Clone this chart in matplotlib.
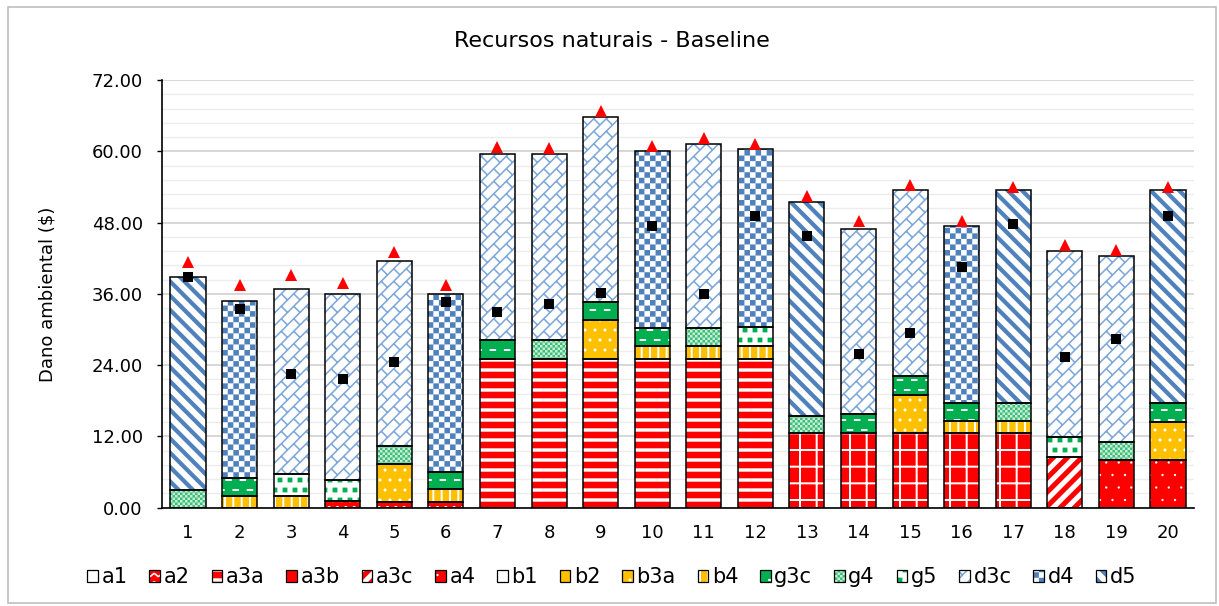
import numpy as np
import matplotlib
matplotlib.use("Agg")
import matplotlib.pyplot as plt
import matplotlib.hatch as mhatch
from matplotlib.path import Path
from matplotlib.patches import Patch, Rectangle
from matplotlib.legend_handler import HandlerTuple
from matplotlib.ticker import MultipleLocator, FormatStrFormatter

# ---------------- data ----------------
categories = [str(i) for i in range(1, 21)]
a1 = [0, 0, 0, 0, 0, 0, 0, 0, 0, 0, 0, 0, 0, 0, 0, 0, 0, 0, 0, 0]
a2 = [0, 0, 0, 1.2, 1.0, 1.0, 0, 0, 0, 0, 0, 0, 0, 0, 0, 0, 0, 0, 0, 0]
a3a = [0, 0, 0, 0, 0, 0, 25.1, 25.1, 25.1, 25.1, 25.1, 25.1, 0, 0, 0, 0, 0, 0, 0, 0]
a3b = [0, 0, 0, 0, 0, 0, 0, 0, 0, 0, 0, 0, 12.5, 12.5, 12.5, 12.5, 12.5, 0, 0, 0]
a3c = [0, 0, 0, 0, 0, 0, 0, 0, 0, 0, 0, 0, 0, 0, 0, 0, 0, 8.6, 0, 0]
a4 = [0, 0, 0, 0, 0, 0, 0, 0, 0, 0, 0, 0, 0, 0, 0, 0, 0, 0, 8.0, 8.0]
b1 = [0, 0, 0, 0, 0, 0, 0, 0, 0, 0, 0, 0, 0, 0, 0, 0, 0, 0, 0, 0]
b2 = [0, 0, 0, 0, 0, 0, 0, 0, 0, 0, 0, 0, 0, 0, 0, 0, 0, 0, 0, 0]
b3a = [0, 0, 0, 0, 6.4, 0, 0, 0, 6.5, 0, 0, 0, 0, 0, 6.5, 0, 0, 0, 0, 6.4]
b4 = [0, 2.0, 2.0, 0, 0, 2.1, 0, 0, 0, 2.2, 2.2, 2.2, 0, 0, 0, 2.15, 2.15, 0, 0, 0]
g3c = [0, 3.0, 0, 0, 0, 2.9, 3.2, 0, 3.0, 2.95, 0, 0, 0, 3.2, 3.2, 3.05, 0, 0, 0, 3.2]
g4 = [2.9, 0, 0, 0, 3.0, 0, 0, 3.2, 0, 0, 2.95, 0, 2.9, 0, 0, 0, 3.05, 0, 3.1, 0]
g5 = [0, 0, 3.6, 3.45, 0, 0, 0, 0, 0, 0, 0, 3.2, 0, 0, 0, 0, 0, 3.35, 0, 0]
d3c = [0, 0, 31.2, 31.35, 31.1, 0, 31.3, 31.3, 31.2, 0, 30.95, 0, 0, 31.3, 31.2, 0, 0, 31.25, 31.3, 0]
d4 = [0, 29.85, 0, 0, 0, 30.0, 0, 0, 0, 29.85, 0, 29.9, 0, 0, 0, 29.8, 0, 0, 0, 0]
d5 = [36.0, 0, 0, 0, 0, 0, 0, 0, 0, 0, 0, 0, 36.05, 0, 0, 0, 35.7, 0, 0, 35.9]
square_marker = [38.8, 33.45, 22.45, 21.7, 24.6, 34.6, 32.9, 34.3, 36.2, 47.4,
                 35.9, 49.05, 45.8, 25.9, 29.4, 40.5, 47.8, 25.4, 28.35, 49.1]
triangle_marker = [41.4, 37.5, 39.2, 37.8, 43.0, 37.5, 60.8, 60.6, 66.8, 60.9,
                   62.2, 61.3, 52.4, 48.3, 54.3, 48.3, 54.0, 44.2, 43.4, 54.0]
series_names = ["a1", "a2", "a3a", "a3b", "a3c", "a4", "b1", "b2", "b3a", "b4",
                "g3c", "g4", "g5", "d3c", "d4", "d5"]
series_values = [a1, a2, a3a, a3b, a3c, a4, b1, b2, b3a, b4, g3c, g4, g5, d3c, d4, d5]
yticks = [0, 12, 24, 36, 48, 60, 72]

# ---------------- custom pattern fills ----------------
def _ccw(poly):
    p = np.asarray(poly, float)
    a = 0.5 * np.sum(p[:, 0] * np.roll(p[:, 1], -1) - np.roll(p[:, 0], -1) * p[:, 1])
    return p if a >= 0 else p[::-1]

def _band(p, q, w):
    p = np.asarray(p, float); q = np.asarray(q, float)
    d = q - p
    L = np.hypot(d[0], d[1])
    nrm = np.array([-d[1], d[0]]) / L * w / 2
    return [p + nrm, q + nrm, q - nrm, p - nrm]

def _box(cx, cy, hw, hh):
    return [(cx - hw, cy - hh), (cx + hw, cy - hh), (cx + hw, cy + hh), (cx - hw, cy + hh)]

def _disc(cx, cy, r, k=10):
    t = np.linspace(0, 2 * np.pi, k, endpoint=False)
    return list(zip(cx + r * np.cos(t), cy + r * np.sin(t)))

def _to_path(polys):
    verts, codes = [], []
    for poly in polys:
        p = _ccw(poly)
        verts.extend(p.tolist()); verts.append(p[0].tolist())
        codes.extend([Path.MOVETO] + [Path.LINETO] * (len(p) - 1) + [Path.CLOSEPOLY])
    return Path(np.array(verts, float), np.array(codes, dtype=Path.code_type))

def pat_diag(n, frac, back):
    t = frac / n
    polys = []
    for k in range(-n - 2, 2 * n + 3):
        c = k / n
        if back:
            polys.append([(-1, c + 1), (2, c - 2), (2, c - 2 + t), (-1, c + 1 + t)])
        else:
            polys.append([(-1, c - 1), (2, c + 2), (2, c + 2 + t), (-1, c - 1 + t)])
    return polys

def pat_checker(n):
    s = 1.0 / n
    return [[(i * s, j * s), ((i + 1) * s, j * s), ((i + 1) * s, (j + 1) * s), (i * s, (j + 1) * s)]
            for i in range(n) for j in range(n) if (i + j) % 2 == 0]

def pat_hlines(n, t):
    return [_box(0.5, k / n, 0.6, t / 2) for k in range(0, n + 1)]

def pat_vlines(n, t):
    return [_box(k / n, 0.5, t / 2, 0.6) for k in range(0, n + 1)]

def pat_dots(n, r, square=False):
    s = 1.0 / n
    polys = []
    for j in range(-1, n + 2):
        off = s / 2 if j % 2 else 0
        for i in range(-1, n + 2):
            cx, cy = i * s + off, j * s
            polys.append(_box(cx, cy, r, r) if square else _disc(cx, cy, r))
    return polys

def pat_dashes(n, m, L, t):
    polys = []
    for j in range(-1, n + 2):
        off = 0.5 / m if j % 2 else 0
        for i in range(-1, m + 2):
            polys.append(_box(i / m + off, j / n, L / 2, t / 2))
    return polys

def pat_brick(n, m, w):
    def uv(u, v):
        return ((u - v) / 2, (u + v) / 2)
    polys = []
    for k in range(-n - 2, n + 3):
        v = k / n
        polys.append(_band((-1, v - 1), (2, v + 2), w))
        for j in range(-2, 2 * m + 3):
            u = j / m + (0.5 / m if k % 2 else 0)
            polys.append(_band(uv(u, v), uv(u, v + 1.0 / n), w))
    return polys

def pat_zigzag(n, p, amp, w):
    polys = []
    for j in range(-1, n + 2):
        y0 = j / n
        xs = [i / (2 * p) for i in range(-2, 2 * p + 3)]
        ys = [y0 + (amp if i % 2 else -amp) for i in range(-2, 2 * p + 3)]
        for a in range(len(xs) - 1):
            polys.append(_band((xs[a], ys[a]), (xs[a + 1], ys[a + 1]), w))
    return polys

PATTERNS = {
    "XX": _to_path(pat_zigzag(12, 12, 0.018, 0.016)),          # a2
    "----": _to_path(pat_hlines(10, 0.034)),                   # a3a
    "+++": _to_path(pat_hlines(6, 0.02) + pat_vlines(6, 0.02)),  # a3b
    "////": _to_path(pat_diag(7, 0.5, back=False)),            # a3c
    "oo": _to_path(pat_dots(8, 0.012)),                        # a4
    "..": _to_path(pat_dots(10, 0.016)),                       # b3a
    "||||": _to_path(pat_vlines(12, 0.02)),                    # b4
    "--": _to_path(pat_dashes(10, 7, 0.065, 0.02)),            # g3c
    "....": _to_path(pat_checker(40)),                         # g4
    "**": _to_path(pat_dots(10, 0.024, square=True)),          # g5
    "xxxx": _to_path(pat_brick(8, 4, 0.016)),                  # d3c
    "++++": _to_path(pat_checker(18)),                         # d4
    "\\\\\\": _to_path(pat_diag(7, 0.42, back=True)),          # d5
}
_orig_get_path = mhatch.get_path
def _custom_get_path(hatchpattern, density=6):
    if hatchpattern in PATTERNS:
        return PATTERNS[hatchpattern]
    return _orig_get_path(hatchpattern, density)
mhatch.get_path = _custom_get_path

RED, ORANGE, GREEN, BLUE, LBLUE = "#ff0000", "#ffc000", "#00b050", "#4f81bd", "#7fa7d9"
styles = {
    "a1": ("white", "white", None),
    "a2": (RED, "white", "XX"),
    "a3a": (RED, "white", "----"),
    "a3b": (RED, "white", "+++"),
    "a3c": ("white", RED, "////"),
    "a4": (RED, "white", "oo"),
    "b1": ("white", "white", None),
    "b2": (ORANGE, ORANGE, None),
    "b3a": (ORANGE, "white", ".."),
    "b4": (ORANGE, "white", "||||"),
    "g3c": (GREEN, "white", "--"),
    "g4": ("#c8ecd6", "#3cbf78", "...."),
    "g5": ("white", GREEN, "**"),
    "d3c": ("white", LBLUE, "xxxx"),
    "d4": ("white", BLUE, "++++"),
    "d5": ("white", BLUE, "\\\\\\"),
}

plt.rcParams["font.family"] = ["DejaVu Sans"]
plt.rcParams["hatch.linewidth"] = 0.0

# ---------------- figure ----------------
W, H = 1219, 606
fig = plt.figure(figsize=(W / 100, H / 100), dpi=100)
ax = fig.add_axes([161.7 / W, 1 - 507.7 / H, (1194.3 - 161.7) / W, (507.7 - 80) / H])

x = np.arange(1, len(categories) + 1)
bw = 0.68
bottom = np.zeros(len(categories))
for name, vals in zip(series_names, series_values):
    v = np.asarray(vals, float)
    m = v > 0
    fc, hc, h = styles[name]
    if m.any():
        ax.bar(x[m], v[m], bottom=bottom[m], width=bw, facecolor=fc, edgecolor=hc,
               hatch=h, linewidth=0, zorder=2)
        ax.bar(x[m], v[m], bottom=bottom[m], width=bw, facecolor="none",
               edgecolor="black", linewidth=1.1, zorder=3)
    bottom += v

ax.plot(x, square_marker, linestyle="none", marker="s", markersize=7.2,
        color="black", markeredgewidth=0, zorder=5)
ax.plot(x, triangle_marker, linestyle="none", marker="^", markersize=8.0,
        color=RED, markeredgewidth=0, zorder=5)

ax.set_xlim(0.49, 20.51)
ax.set_ylim(0, 72)
ax.set_yticks(yticks)
ax.yaxis.set_major_formatter(FormatStrFormatter("%.2f"))
ax.yaxis.set_minor_locator(MultipleLocator(2.4))
ax.set_xticks(x)
ax.set_xticklabels(categories)
ax.tick_params(axis="x", length=0, pad=12, labelsize=13)
ax.tick_params(axis="y", which="major", length=3.6, width=1.0, pad=10, labelsize=13)
ax.tick_params(axis="y", which="minor", length=0)
ax.grid(which="major", axis="y", color="#d4d4d4", linewidth=1.3)
ax.grid(which="minor", axis="y", color="#ececec", linewidth=1.0)
ax.set_axisbelow(True)
for s in ("top", "right"):
    ax.spines[s].set_visible(False)
for s in ("left", "bottom"):
    ax.spines[s].set_color("black")
    ax.spines[s].set_linewidth(1.2)

fig.text(0.502, 1 - 41 / H, "Recursos naturais - Baseline", ha="center", va="center", fontsize=16)
fig.text(48 / W, 1 - 294 / H, "Dano ambiental ($)", ha="center", va="center",
         rotation=90, fontsize=13)

handles = []
for name in series_names:
    fc, hc, h = styles[name]
    handles.append((Patch(facecolor=fc, edgecolor=hc, hatch=h, linewidth=0),
                    Patch(facecolor="none", edgecolor="black", linewidth=0.9)))
fig.legend(handles, series_names, handler_map={tuple: HandlerTuple(ndivide=1, pad=0)},
           loc="center", bbox_to_anchor=(0.502, 1 - 577 / H), ncol=16, frameon=False,
           fontsize=15, handlelength=0.5, handleheight=0.5, handletextpad=0.18,
           columnspacing=1.05, borderpad=0, borderaxespad=0)

fig.patches.append(Rectangle((8 / W, 3 / H), (1216 - 8) / W, (599 - 3) / H,
                             transform=fig.transFigure, fill=False,
                             edgecolor="#bfbfbf", linewidth=1.2))

fig.savefig("out.png", dpi=100)
